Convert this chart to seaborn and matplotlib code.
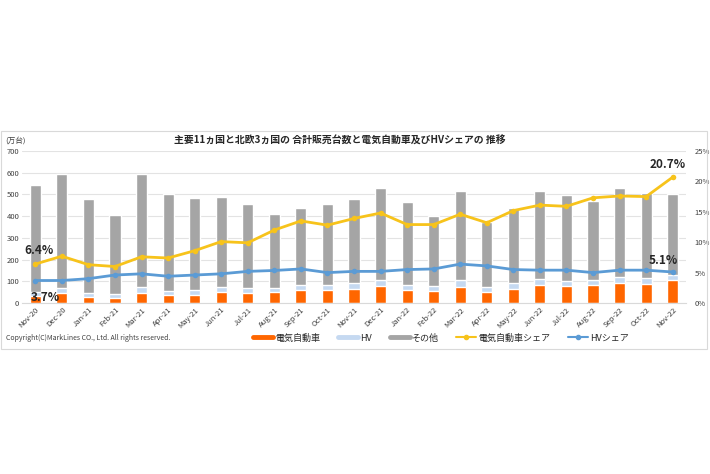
import numpy as np
import pandas as pd
import seaborn as sns
import matplotlib.pyplot as plt
from matplotlib.lines import Line2D
from matplotlib.patches import Rectangle

months = ['Nov-20', 'Dec-20', 'Jan-21', 'Feb-21', 'Mar-21', 'Apr-21', 'May-21', 'Jun-21',
          'Jul-21', 'Aug-21', 'Sep-21', 'Oct-21', 'Nov-21', 'Dec-21', 'Jan-22', 'Feb-22',
          'Mar-22', 'Apr-22', 'May-22', 'Jun-22', 'Jul-22', 'Aug-22', 'Sep-22', 'Oct-22', 'Nov-22']
# 万台
ev = [31, 46, 28, 23, 46, 35, 38, 49, 46, 49, 58, 58, 66, 76, 58, 53,
      75, 49, 66, 84, 76, 81, 93, 89, 105]
hv = [20, 22, 19, 19, 29, 22, 22, 23, 24, 22, 24, 23, 25, 28, 25, 23,
      33, 23, 24, 28, 27, 23, 29, 27, 26]
other = [491, 528, 431, 363, 521, 447, 424, 417, 387, 337, 354, 373, 390, 426, 380, 326,
         410, 302, 349, 406, 394, 365, 408, 390, 369]
# shares, %
ev_share = [6.4, 7.7, 6.3, 6.0, 7.6, 7.4, 8.6, 10.1, 9.9, 12.0, 13.5, 12.8, 13.9, 14.8, 12.9, 12.9,
            14.6, 13.2, 15.2, 16.1, 15.9, 17.3, 17.6, 17.5, 20.7]
hv_share = [3.7, 3.7, 4.0, 4.6, 4.8, 4.4, 4.6, 4.8, 5.2, 5.35, 5.6, 5.0, 5.2, 5.2, 5.5, 5.6,
            6.4, 6.1, 5.5, 5.4, 5.4, 5.0, 5.4, 5.4, 5.1]

c_ev, c_hv, c_other = '#FF6600', '#C5D9F1', '#A5A5A5'
c_evs, c_hvs = '#F7C31B', '#5B9BD5'

sns.set_style('white')
plt.rcParams['font.family'] = ['Noto Sans CJK JP', 'DejaVu Sans']

df = pd.DataFrame({'month': months, 'ev': ev, 'hv': hv, 'other': other})
df['ev_hv'] = df['ev'] + df['hv']
df['total'] = df['ev_hv'] + df['other']

fig = plt.figure(figsize=(7.1, 4.74), dpi=100)
fig.patches.append(Rectangle((0.002, 1 - 349 / 474), 0.994, (349 - 131) / 474,
                             transform=fig.transFigure, fill=False, edgecolor='#D9D9D9', lw=0.8))
ax = fig.add_axes([22 / 710, 1 - 303 / 474, 664 / 710, 152 / 474])

for col, color in [('total', c_other), ('ev_hv', c_hv), ('ev', c_ev)]:
    sns.barplot(data=df, x='month', y=col, color=color, width=0.42, ax=ax,
                saturation=1, zorder=2)

ax.set_ylim(0, 700)
ax.set_yticks(range(0, 701, 100))
ax.yaxis.grid(True, color='#E3E3E3', lw=0.8, zorder=0)
ax.set_axisbelow(True)
ax.set_xlabel('')
ax.set_ylabel('')
for s in ['top', 'right', 'left']:
    ax.spines[s].set_visible(False)
ax.spines['bottom'].set_color('#D9D9D9')
ax.tick_params(axis='y', labelsize=5.5, length=0, pad=2, colors='#404040')
ax.tick_params(axis='x', labelsize=5.5, length=0, pad=2, colors='#404040')
plt.setp(ax.get_xticklabels(), rotation=45, ha='right', rotation_mode='anchor')
ax.set_xlim(-0.5, len(months) - 0.5)

ax2 = ax.twinx()
x = np.arange(len(months))
sns.lineplot(x=x, y=ev_share, color=c_evs, lw=2, marker='o', markersize=4,
             markeredgewidth=0, ax=ax2)
sns.lineplot(x=x, y=hv_share, color=c_hvs, lw=2, marker='o', markersize=4,
             markeredgewidth=0, ax=ax2)
ax2.set_ylim(0, 25)
ax2.set_yticks(range(0, 26, 5))
ax2.set_yticklabels([f'{v}%' for v in range(0, 26, 5)])
ax2.tick_params(axis='y', labelsize=5.5, length=0, pad=6, colors='#404040')
for s in ['top', 'right', 'left', 'bottom']:
    ax2.spines[s].set_visible(False)
ax2.set_xlim(-0.5, len(months) - 0.5)

kw = dict(fontsize=8.5, fontweight='bold', color='#262626', ha='center', va='center')
ax2.annotate(f'{ev_share[0]}%', (0, ev_share[0]), xytext=(3, 10), textcoords='offset points', **kw)
ax2.annotate(f'{hv_share[0]}%', (0, hv_share[0]), xytext=(7, -12), textcoords='offset points', **kw)
ax2.annotate(f'{ev_share[-1]}%', (24, ev_share[-1]), xytext=(-4, 9), textcoords='offset points', **kw)
ax2.annotate(f'{hv_share[-1]}%', (24, hv_share[-1]), xytext=(-7, 8), textcoords='offset points', **kw)

fig.text(5 / 710, 1 - 141 / 474, '(万台)', fontsize=5.5, color='#404040', va='center')
fig.text(340 / 710, 1 - 141 / 474, '主要11ヵ国と北欧3ヵ国の 合計販売台数と電気自動車及びHVシェアの 推移',
         fontsize=7.1, fontweight='bold', ha='center', va='center', color='#262626')
fig.text(6 / 710, 1 - 338 / 474, 'Copyright(C)MarkLines CO., Ltd. All rights reserved.',
         fontsize=5, color='#404040', va='center')

handles = [Line2D([], [], color=c_ev, lw=3.5), Line2D([], [], color=c_hv, lw=3.5),
           Line2D([], [], color=c_other, lw=3.5),
           Line2D([], [], color=c_evs, lw=1.5, marker='o', markersize=3),
           Line2D([], [], color=c_hvs, lw=1.5, marker='o', markersize=3)]
labels = ['電気自動車', 'HV', 'その他', '電気自動車シェア', 'HVシェア']
fig.legend(handles, labels, loc='center', bbox_to_anchor=(441 / 710, 1 - 338 / 474), ncol=5,
           frameon=False, fontsize=6.5, handlelength=2.2, handletextpad=0.2, columnspacing=2.0)

fig.savefig('out.png', dpi=100)
